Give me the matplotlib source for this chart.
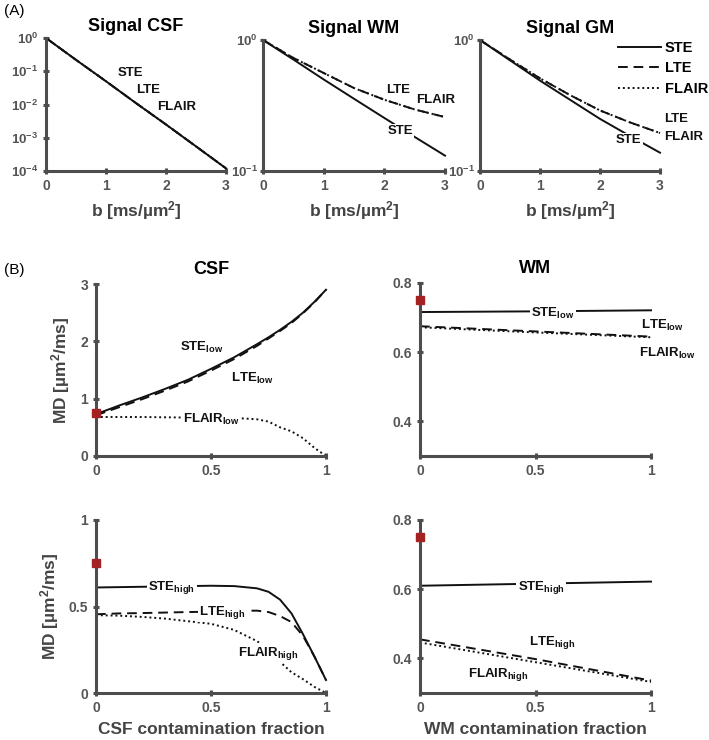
import numpy as np
import matplotlib
matplotlib.use("Agg")
import matplotlib.pyplot as plt
from matplotlib.ticker import NullLocator

plt.rcParams['font.family'] = ['Liberation Sans', 'DejaVu Sans']
plt.rcParams['font.weight'] = 'bold'
plt.rcParams['mathtext.default'] = 'regular'

# ---- data (A) signal vs b ----
b = [0, 0.5, 1, 1.5, 2, 2.5, 3]
csf_ste = [1, 0.22, 0.05, 0.011, 0.0025, 0.00055, 0.00012]
csf_lte = [1, 0.22, 0.05, 0.011, 0.0025, 0.00055, 0.00012]
csf_flair = [1, 0.22, 0.05, 0.011, 0.0025, 0.00055, 0.00012]
wm_ste = [1, 0.71, 0.50, 0.356, 0.254, 0.182, 0.131]
wm_lte = [1, 0.73, 0.56, 0.43, 0.35, 0.295, 0.258]
wm_flair = [1, 0.73, 0.56, 0.43, 0.35, 0.295, 0.258]
gm_ste = [1, 0.70, 0.49, 0.35, 0.25, 0.185, 0.138]
gm_lte = [1, 0.71, 0.51, 0.38, 0.29, 0.235, 0.195]
gm_flair = [1, 0.71, 0.51, 0.38, 0.29, 0.235, 0.195]

# ---- data (B) MD vs contamination fraction ----
f_csf = [0, 0.1, 0.2, 0.3, 0.4, 0.5, 0.6, 0.7, 0.75, 0.8, 0.85, 0.9, 0.95, 1.0]
csf_ste_low = [0.73, 0.88, 1.02, 1.17, 1.33, 1.52, 1.72, 1.95, 2.07, 2.2, 2.34, 2.5, 2.69, 2.9]
csf_lte_low = [0.71, 0.85, 0.99, 1.14, 1.30, 1.49, 1.69, 1.92, 2.05, 2.18, 2.32, 2.49, 2.68, 2.9]
csf_flair_low = [0.68, 0.68, 0.68, 0.675, 0.67, 0.67, 0.665, 0.64, 0.6, 0.5, 0.43, 0.31, 0.14, 0.0]
csf_ste_high = [0.61, 0.612, 0.614, 0.616, 0.618, 0.62, 0.618, 0.605, 0.585, 0.54, 0.46, 0.34, 0.21, 0.075]
csf_lte_high = [0.455, 0.46, 0.462, 0.465, 0.468, 0.47, 0.475, 0.476, 0.468, 0.445, 0.41, 0.33, 0.21, 0.075]
csf_flair_high = [0.45, 0.447, 0.44, 0.43, 0.415, 0.40, 0.365, 0.30, 0.25, 0.18, 0.12, 0.08, 0.035, 0.0]

f_wm = [0, 0.5, 1]
wm_ste_low = [0.716, 0.718, 0.721]
wm_lte_low = [0.675, 0.660, 0.645]
wm_flair_low = [0.672, 0.657, 0.643]
wm_ste_high = [0.61, 0.616, 0.622]
wm_lte_high = [0.455, 0.398, 0.336]
wm_flair_high = [0.446, 0.389, 0.332]

md_true = 0.75

line_c = '#111111'
spine_c = '#4d4d4d'
tick_c = '#555555'
red = '#a52222'

fig = plt.figure(figsize=(7.09, 7.40), dpi=100)


def style(ax):
    for s in ['top', 'right']:
        ax.spines[s].set_visible(False)
    for s in ['left', 'bottom']:
        ax.spines[s].set_color(spine_c)
        ax.spines[s].set_linewidth(2.2)
    ax.tick_params(direction='inout', length=5, width=2.2, color=spine_c,
                   labelcolor=tick_c, labelsize=10, pad=3)
    for lab in ax.get_xticklabels() + ax.get_yticklabels():
        lab.set_fontweight('bold')


def lbl(ax, x, y, s, fs=9.5):
    ax.text(x, y, s, ha='center', va='center', fontsize=fs, fontweight='bold',
            color=line_c, zorder=5, clip_on=False,
            bbox=dict(facecolor='white', edgecolor='none', pad=1.0))


def three(ax, x, s, l, f):
    ax.plot(x, l, ls=(0, (5, 3)), color=line_c, lw=1.4, clip_on=False)
    ax.plot(x, f, ls=(0, (1, 1.5)), color=line_c, lw=1.4, clip_on=False)
    ax.plot(x, s, ls='-', color=line_c, lw=1.4, clip_on=False)


# ---------- (A) ----------
posA = [[0.0649, 0.7689, 0.2539, 0.1797],
        [0.371, 0.7689, 0.2567, 0.177],
        [0.677, 0.7689, 0.2539, 0.177]]
titlesA = ['Signal CSF', 'Signal WM', 'Signal GM']
dataA = [(csf_ste, csf_lte, csf_flair), (wm_ste, wm_lte, wm_flair), (gm_ste, gm_lte, gm_flair)]
axesA = []
for p, t, d in zip(posA, titlesA, dataA):
    ax = fig.add_axes(p)
    ax.set_yscale('log')
    three(ax, b, *d)
    ax.set_xlim(0, 3)
    ax.set_xticks([0, 1, 2, 3])
    ax.set_title(t, fontsize=13, fontweight='bold', pad=5)
    ax.set_xlabel('b [ms/µm$^2$]', fontsize=12.5, fontweight='bold', color='#444444', labelpad=5)
    style(ax)
    axesA.append(ax)

axesA[0].set_ylim(1e-4, 1)
axesA[0].set_yticks([1e-4, 1e-3, 1e-2, 1e-1, 1])
axesA[1].set_ylim(0.1, 1)
axesA[1].set_yticks([0.1, 1])
axesA[2].set_ylim(0.1, 1)
axesA[2].set_yticks([0.1, 1])
for i, ax in enumerate(axesA):
    ax.yaxis.set_minor_locator(NullLocator())
    ax.tick_params(axis='y', labelsize=9.5, pad=3 if i == 0 else 1)
    for lab in ax.get_yticklabels():
        lab.set_fontweight('bold')

lbl(axesA[0], 1.4, 0.089, 'STE')
lbl(axesA[0], 1.7, 0.027, 'LTE')
lbl(axesA[0], 2.17, 0.0084, 'FLAIR')
lbl(axesA[1], 2.23, 0.415, 'LTE')
lbl(axesA[1], 2.85, 0.348, 'FLAIR')
lbl(axesA[1], 2.26, 0.202, 'STE')
lbl(axesA[2], 2.48, 0.172, 'STE')
lbl(axesA[2], 3.27, 0.249, 'LTE')
lbl(axesA[2], 3.4, 0.182, 'FLAIR')

hs = axesA[2].plot([], [], '-', color=line_c, lw=1.4)[0]
hl = axesA[2].plot([], [], ls=(0, (5, 3)), color=line_c, lw=1.4)[0]
hf = axesA[2].plot([], [], ls=(0, (1, 1.5)), color=line_c, lw=1.4)[0]
leg = fig.legend([hs, hl, hf], ['STE', 'LTE', 'FLAIR'], loc='upper left',
                 bbox_to_anchor=(0.872, 0.945), frameon=False, handlelength=2.9,
                 handletextpad=0.3, labelspacing=0.45, borderpad=0, borderaxespad=0,
                 prop=dict(weight='bold', size=10.5))

# ---------- (B) ----------
posB = [[0.1354, 0.3838, 0.3244, 0.2324],
        [0.5924, 0.3838, 0.3258, 0.2338],
        [0.1354, 0.0635, 0.3244, 0.2338],
        [0.5924, 0.0635, 0.3258, 0.2338]]
axB = [fig.add_axes(p) for p in posB]

three(axB[0], f_csf, csf_ste_low, csf_lte_low, csf_flair_low)
three(axB[1], f_wm, wm_ste_low, wm_lte_low, wm_flair_low)
three(axB[2], f_csf, csf_ste_high, csf_lte_high, csf_flair_high)
three(axB[3], f_wm, wm_ste_high, wm_lte_high, wm_flair_high)

ylims = [(0, 3), (0.3, 0.8), (0, 1), (0.3, 0.8)]
yticks = [[0, 1, 2, 3], [0.4, 0.6, 0.8], [0, 0.5, 1], [0.4, 0.6, 0.8]]
yticklabels = [['0', '1', '2', '3'], ['0.4', '0.6', '0.8'], ['0', '0.5', '1'], ['0.4', '0.6', '0.8']]
xticks = [0, 0.5, 1]
xticklabels = ['0', '0.5', '1']
for i, ax in enumerate(axB):
    ax.plot([0], [md_true], 's', color=red, ms=6, clip_on=False, zorder=6)
    ax.set_xlim(0, 1)
    ax.set_ylim(*ylims[i])
    ax.set_xticks(xticks)
    ax.set_xticklabels(xticklabels)
    ax.set_yticks(yticks[i])
    ax.set_yticklabels(yticklabels[i])
    style(ax)

axB[0].set_title('CSF', fontsize=13, fontweight='bold', pad=7)
axB[1].set_title('WM', fontsize=13, fontweight='bold', pad=7)
for ax in (axB[0], axB[2]):
    ax.set_ylabel('MD [µm$^2$/ms]', fontsize=12.5, fontweight='bold', color='#444444', labelpad=6)
axB[2].set_xlabel('CSF contamination fraction', fontsize=12.5, fontweight='bold', color='#444444', labelpad=5)
axB[3].set_xlabel('WM contamination fraction', fontsize=12.5, fontweight='bold', color='#444444', labelpad=5)

lbl(axB[0], 0.46, 1.90, 'STE$_{low}$')
lbl(axB[0], 0.68, 1.36, 'LTE$_{low}$')
lbl(axB[0], 0.50, 0.63, 'FLAIR$_{low}$')
lbl(axB[1], 0.576, 0.713, 'STE$_{low}$')
lbl(axB[1], 1.05, 0.678, 'LTE$_{low}$')
lbl(axB[1], 1.07, 0.597, 'FLAIR$_{low}$')
lbl(axB[2], 0.33, 0.607, 'STE$_{high}$')
lbl(axB[2], 0.55, 0.468, 'LTE$_{high}$')
lbl(axB[2], 0.75, 0.231, 'FLAIR$_{high}$')
lbl(axB[3], 0.524, 0.606, 'STE$_{high}$')
lbl(axB[3], 0.57, 0.446, 'LTE$_{high}$')
lbl(axB[3], 0.34, 0.354, 'FLAIR$_{high}$')

fig.text(0.005, 0.985, '(A)', fontsize=11, fontweight='normal', va='center', ha='left')
fig.text(0.005, 0.635, '(B)', fontsize=11, fontweight='normal', va='center', ha='left')

fig.savefig('out.png', dpi=100)
